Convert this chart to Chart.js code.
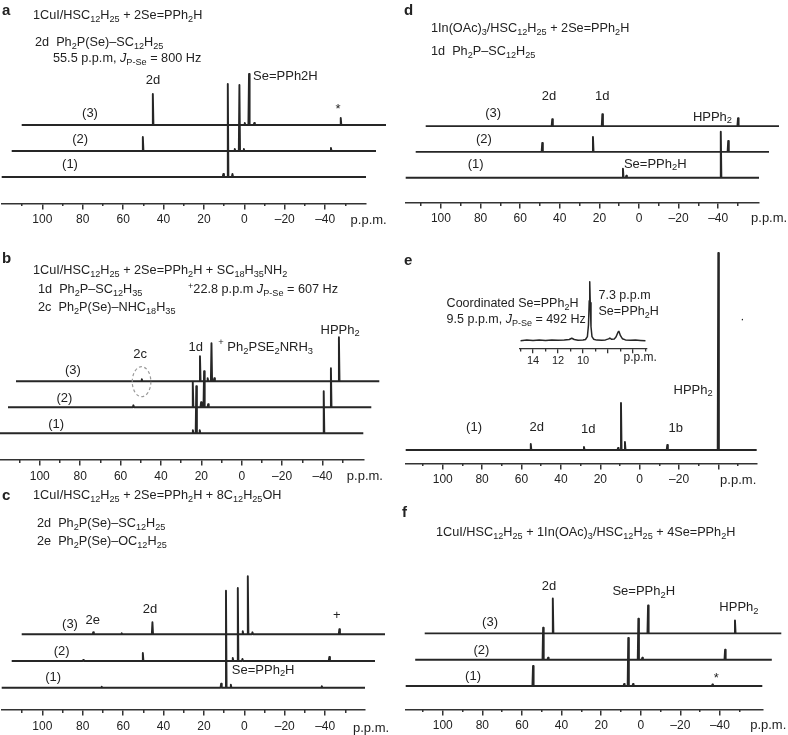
<!DOCTYPE html>
<html>
<head>
<meta charset="utf-8">
<script src="https://cdn.jsdelivr.net/npm/chart.js@4.4.1/dist/chart.umd.min.js"></script>
<style>
  html, body { margin: 0; padding: 0; background: #fff; }
  #fig { position: relative; width: 788px; height: 735px; overflow: hidden;
         font-family: "Liberation Sans", Arial, sans-serif; color: #222; }
  #fig canvas { position: absolute; }
  .hd { position: absolute; font-size: 12.7px; line-height: 16px; white-space: nowrap; }
  .hd sub { font-size: 0.72em; vertical-align: -0.3em; line-height: 0; }
  .hd sup { font-size: 0.72em; vertical-align: 0.45em; line-height: 0; }
  .hd.lt { font-weight: bold; font-size: 15px; }
</style>
</head>
<body>
<div id="fig"></div>
<script>
// ================= TICKS (p.p.m.) =================
var majorTicks = [100, 80, 60, 40, 20, 0, -20, -40];
var minorTicks = [110, 90, 70, 50, 30, 10, -10, -30, -50];
var eTickLabels = [100, 80, 60, 40, 20, 0, -20];
var insetMajor = [14, 12, 10, 8, 6];
var insetMinor = [15, 13, 11, 9, 7, 5];
var insetLabels = [14, 12, 10];

// ================= PEAKS: [shift p.p.m., height] =================
var a1 = [[10.4, 3], [8.2, 93], [5.9, 3]];
var a2 = [[55.2, 14], [9.7, 2], [7.4, 66], [5.2, 2], [-37.9, 3]];
var a3 = [[55.2, 31], [9.7, 2], [7.6, 51], [5.0, 2], [-37.8, 7]];

var b1 = [[24.2, 3], [22.5, 47], [20.8, 3], [-40.6, 42]];
var b2 = [[57.6, 2], [28.2, 25], [24.1, 5], [22.6, 36], [20.6, 3], [-40.2, 39]];
var b3 = [[57.4, 2], [28.6, 25], [24.8, 3], [22.9, 38], [21.5, 3], [-40.2, 44]];

var c1 = [[70.6, 1], [11.5, 4], [9.1, 97], [6.7, 3], [-38.3, 1.5]];
var c2 = [[84.7, 1], [55.2, 8], [10.7, 3], [8.2, 73], [5.9, 2], [-37.1, 4]];
var c3 = [[84.7, 2], [70.6, 1], [55.4, 12], [10.7, 3], [8.2, 58], [5.9, 2], [-37.1, 5]];

var d1 = [[8.1, 9], [6.4, 2], [-41.3, 46]];
var d2 = [[53.9, 9], [28.3, 15], [-40.0, 11]];
var d3 = [[53.9, 7], [28.6, 12], [-39.9, 8]];

var e1 = [[55.3, 6], [28.3, 3], [11.0, 2], [9.5, 47], [7.5, 8], [-14.0, 5], [-39.9, 197]];

var f1 = [[54.4, 20], [8.4, 2], [6.3, 48], [3.9, 2], [-36.2, 1.5]];
var f2 = [[54.1, 32], [51.6, 2], [6.0, 41], [4.0, 2], [-37.8, 10]];
var f3 = [[54.0, 35], [5.9, 28], [-38.0, 13]];

// inset of e, read point by point: [p.p.m., intensity]
var eInset = [[15.0, 0], [14.5, 0.6], [14.0, 0.2], [13.5, 0.7], [13.0, 0.3], [12.5, 0.8], [12.0, 0.4],
  [11.5, 0.6], [11.1, 1.2], [10.9, 2.4], [10.7, 1.2], [10.4, 0.5], [10.0, 0.6], [9.8, 1.2],
  [9.65, 4], [9.56, 16], [9.5, 40], [9.46, 59], [9.42, 38], [9.36, 14], [9.28, 4], [9.15, 1.5],
  [8.9, 0.6], [8.5, 0.4], [8.2, 0.8], [7.95, 1.8], [7.85, 2.6], [7.7, 1.4], [7.5, 1.6], [7.35, 4],
  [7.2, 8.5], [7.12, 9.3], [7.0, 5], [6.85, 2], [6.6, 0.8], [6.2, 0.4], [5.8, 0.7], [5.4, 0.3], [5.0, 0]];

// ================= HEADER TEXT =================
var headers = [
  { h: 'a', x: 2, y: 10, lt: true },
  { h: '1CuI/HSC<sub>12</sub>H<sub>25</sub> + 2Se=PPh<sub>2</sub>H', x: 33, y: 15 },
  { h: '2d&nbsp; Ph<sub>2</sub>P(Se)–SC<sub>12</sub>H<sub>25</sub>', x: 35, y: 42 },
  { h: '55.5 p.p.m, <i>J</i><sub>P-Se</sub> = 800 Hz', x: 53, y: 58 },

  { h: 'b', x: 2, y: 258, lt: true },
  { h: '1CuI/HSC<sub>12</sub>H<sub>25</sub> + 2Se=PPh<sub>2</sub>H + SC<sub>18</sub>H<sub>35</sub>NH<sub>2</sub>', x: 33, y: 270 },
  { h: '1d&nbsp; Ph<sub>2</sub>P–SC<sub>12</sub>H<sub>35</sub>', x: 38, y: 289 },
  { h: '<sup>+</sup>22.8 p.p.m <i>J</i><sub>P-Se</sub> = 607 Hz', x: 188, y: 289 },
  { h: '2c&nbsp; Ph<sub>2</sub>P(Se)–NHC<sub>18</sub>H<sub>35</sub>', x: 38, y: 307 },

  { h: 'c', x: 2, y: 495, lt: true },
  { h: '1CuI/HSC<sub>12</sub>H<sub>25</sub> + 2Se=PPh<sub>2</sub>H + 8C<sub>12</sub>H<sub>25</sub>OH', x: 33, y: 495 },
  { h: '2d&nbsp; Ph<sub>2</sub>P(Se)–SC<sub>12</sub>H<sub>25</sub>', x: 37, y: 523 },
  { h: '2e&nbsp; Ph<sub>2</sub>P(Se)–OC<sub>12</sub>H<sub>25</sub>', x: 37, y: 541 },

  { h: 'd', x: 404, y: 10, lt: true },
  { h: '1In(OAc)<sub>3</sub>/HSC<sub>12</sub>H<sub>25</sub> + 2Se=PPh<sub>2</sub>H', x: 431, y: 28 },
  { h: '1d&nbsp; Ph<sub>2</sub>P–SC<sub>12</sub>H<sub>25</sub>', x: 431, y: 51 },

  { h: 'e', x: 404, y: 260, lt: true },

  { h: 'f', x: 402, y: 512, lt: true },
  { h: '1CuI/HSC<sub>12</sub>H<sub>25</sub> + 1In(OAc)<sub>3</sub>/HSC<sub>12</sub>H<sub>25</sub> + 4Se=PPh<sub>2</sub>H', x: 436, y: 532 }
];

// ================= PANELS =================
// labels are placed on the scales of trace (1): x = p.p.m., y = height above its baseline
var panels = [
  { box: [0, 0, 394, 236], axisL: 1.7, axisR: 366, axisY: 203.3, ppm: [120.1, -60.2], base: 177, dx: 10, dy: 26,
    traces: [a1, a2, a3], tickLabels: majorTicks,
    labels: [
      { t: '2d', x: 45.2, y: 97 }, { t: 'Se=PPh2H', x: -4.3, y: 101, a: 'left' }, { t: '*', x: -46.4, y: 68 },
      { t: '(3)', x: 76.4, y: 64 }, { t: '(2)', x: 81.3, y: 38 }, { t: '(1)', x: 86.3, y: 13 },
      { t: 'p.p.m.', x: -61.5, y: -43 }] },
  { box: [0, 230, 394, 258], axisL: 0, axisR: 363.3, axisY: 460, ppm: [119.7, -60.2], base: 433.3, dx: 8, dy: 26,
    traces: [b1, b2, b3], tickLabels: majorTicks,
    ring: { x: 49.6, y: 51.6, rx: 9.3, ry: 15 },
    labels: [
      { t: '2c', x: 50.3, y: 79.3 }, { t: '1d', x: 22.8, y: 86 },
      { t: '^{+} Ph_{2}PSE_{2}NRH_{3}', x: 11.6, y: 86, a: 'left' }, { t: 'HPPh_{2}', x: -48.7, y: 103.3 },
      { t: '(3)', x: 83.6, y: 62.6 }, { t: '(2)', x: 87.8, y: 35 }, { t: '(1)', x: 91.9, y: 9 },
      { t: 'p.p.m.', x: -61, y: -43.4 }] },
  { box: [0, 480, 394, 255], axisL: 1.7, axisR: 365, axisY: 710, ppm: [120.1, -59.7], base: 687.7, dx: 10, dy: 26.7,
    traces: [c1, c2, c3], tickLabels: majorTicks,
    labels: [
      { t: '(3)', x: 86.3, y: 63.7 }, { t: '2e', x: 75, y: 67.7 }, { t: '2d', x: 46.7, y: 78.4 },
      { t: '+', x: -45.7, y: 72.7 }, { t: '(2)', x: 90.4, y: 36.7 }, { t: '(1)', x: 94.6, y: 10.4 },
      { t: 'Se=PPh_{2}H', x: 6.2, y: 17.7, a: 'left' }, { t: 'p.p.m.', x: -62.7, y: -40.6 }] },
  { box: [394, 0, 394, 236], axisL: 405.7, axisR: 759, axisY: 202.5, ppm: [117.8, -60.6], base: 177.7, dx: 10, dy: 25.8,
    traces: [d1, d2, d3], tickLabels: majorTicks,
    labels: [
      { t: '2d', x: 45.5, y: 81.7 }, { t: '1d', x: 18.5, y: 81.7 }, { t: 'HPPh_{2}', x: -37.1, y: 60.7 },
      { t: '(3)', x: 73.6, y: 64.7 }, { t: '(2)', x: 78.3, y: 38.7 }, { t: '(1)', x: 82.5, y: 13.7 },
      { t: 'Se=PPh_{2}H', x: 7.6, y: 13.7, a: 'left' }, { t: 'p.p.m.', x: -65.7, y: -40.3 }] },
  { box: [394, 230, 394, 258], axisL: 405.7, axisR: 756.7, axisY: 463.3, ppm: [118.8, -59.4], base: 450, dx: 0, dy: 0,
    traces: [e1], tickLabels: eTickLabels,
    labels: [
      { t: '(1)', x: 84.1, y: 22.7 }, { t: '2d', x: 52.3, y: 22.7 }, { t: '1d', x: 26.1, y: 20.7 },
      { t: '1b', x: -18.3, y: 21.7 }, { t: 'HPPh_{2}', x: -27.1, y: 60 }, { t: '·', x: -52.1, y: 130.7 },
      { t: 'p.p.m.', x: -50, y: -30 }] },
  { box: [394, 480, 394, 255], axisL: 405.7, axisR: 762.3, axisY: 709.3, ppm: [118.7, -61.4], base: 686, dx: 9.5, dy: 26.3,
    traces: [f1, f2, f3], tickLabels: majorTicks,
    labels: [
      { t: '2d', x: 46.3, y: 100 }, { t: 'Se=PPh_{2}H', x: 14.3, y: 94.3, a: 'left' }, { t: 'HPPh_{2}', x: -49.6, y: 78.3 },
      { t: '(3)', x: 76.1, y: 63.7 }, { t: '(2)', x: 80.5, y: 36 }, { t: '(1)', x: 84.7, y: 9.3 },
      { t: '*', x: -38.2, y: 8 }, { t: 'p.p.m.', x: -64.4, y: -39 }] }
];

var inset = { box: [430, 262, 250, 118], axisL: 519.3, axisR: 646.7, axisY: 349, ppm: [15.1, 4.9], base: 340.7,
  points: eInset, tickLabels: insetLabels, small: true,
  labels: [
    { t: 'Coordinated Se=PPh_{2}H', x: 20.92, y: 37.4, a: 'left', f: 12.5 },
    { t: '9.5 p.p.m, %J%_{P-Se} = 492 Hz', x: 20.92, y: 21.4, a: 'left', f: 12.5 },
    { t: '7.3 p.p.m', x: 8.76, y: 44.7, a: 'left', f: 12.5 },
    { t: 'Se=PPh_{2}H', x: 8.76, y: 29, a: 'left', f: 12.5 },
    { t: 'p.p.m.', x: 5.42, y: -16.6, f: 12 }] };

// ================= HELPERS =================
var FAM = '"Liberation Sans", Arial, sans-serif';
Chart.defaults.font.family = FAM;
var fig = document.getElementById('fig');

function fmt(v) { return v < 0 ? '\u2013' + (-v) : String(v); }

// text with _{sub}, ^{sup} and %italic%
function drawRich(ctx, str, x, y, align, size) {
  var parts = [], re = /([_^])\{([^}]*)\}|%([^%]*)%|([^_^%]+)/g, m;
  while ((m = re.exec(str))) {
    if (m[1]) parts.push({ t: m[2], m: m[1] });
    else if (m[3] !== undefined) parts.push({ t: m[3], m: 'i' });
    else parts.push({ t: m[4], m: '' });
  }
  function font(p) {
    var sz = (p.m === '_' || p.m === '^') ? size * 0.72 : size;
    return (p.m === 'i' ? 'italic ' : '') + sz + 'px ' + FAM;
  }
  var total = 0;
  parts.forEach(function (p) { ctx.font = font(p); p.w = ctx.measureText(p.t).width; total += p.w; });
  var cx = align === 'left' ? x : x - total / 2;
  ctx.fillStyle = '#222';
  ctx.textBaseline = 'middle';
  ctx.textAlign = 'left';
  parts.forEach(function (p) {
    ctx.font = font(p);
    var oy = p.m === '_' ? size * 0.3 : (p.m === '^' ? -size * 0.35 : 0);
    ctx.fillText(p.t, cx, y + oy);
    cx += p.w;
  });
}

// baseline with a narrow spike for every peak
function spectrum(peaks, lo, hi) {
  var w = 0.3;
  var pts = [{ x: hi, y: 0 }];
  peaks.slice().sort(function (p, q) { return q[0] - p[0]; }).forEach(function (p) {
    pts.push({ x: p[0] + w, y: 0 }, { x: p[0], y: p[1] }, { x: p[0] - w, y: 0 });
  });
  pts.push({ x: lo, y: 0 });
  return pts;
}

function axisOpts(P, posVal, vals, len, labels) {
  return {
    type: 'linear', reverse: true, min: P.ppm[1], max: P.ppm[0],
    position: { y1: posVal },
    afterBuildTicks: function (sc) { sc.ticks = vals.map(function (v) { return { value: v }; }); },
    border: { display: !!labels, color: '#333', width: P.small ? 1.3 : 1.5 },
    grid: { drawOnChartArea: false, drawTicks: true, tickLength: len, color: '#333', lineWidth: P.small ? 1.3 : 1.5 },
    ticks: {
      display: !!labels, autoSkip: false, maxRotation: 0, padding: P.small ? 1 : 4, color: '#222',
      font: { size: P.small ? 11 : 12 },
      callback: function (v) { return labels && labels.indexOf(v) >= 0 ? fmt(v) : ''; }
    }
  };
}

function makePanel(P) {
  var cv = document.createElement('canvas');
  cv.width = P.box[2];
  cv.height = P.box[3];
  cv.style.left = P.box[0] + 'px';
  cv.style.top = P.box[1] + 'px';
  fig.appendChild(cv);

  var top = P.box[1] + 8;
  var H = P.axisY - top;
  var s = (P.axisR - P.axisL) / (P.ppm[0] - P.ppm[1]);
  var y1min = P.base - P.axisY;

  var scales = {};
  scales.x1 = axisOpts(P, y1min, P.small ? insetMajor : majorTicks, P.small ? 4 : 5, P.tickLabels);
  scales.xm = axisOpts(P, y1min, P.small ? insetMinor : minorTicks, P.small ? 2.5 : 3, null);

  var series = P.points ? [P.points.map(function (p) { return { x: p[0], y: p[1] }; })]
                        : P.traces.map(function (tr) { return spectrum(tr, P.ppm[1], P.ppm[0]); });
  var datasets = series.map(function (data, k) {
    var xid = 'x' + (k + 1), yid = 'y' + (k + 1);
    var shift = k * (P.dx || 0) / s;
    if (k > 0) scales[xid] = { type: 'linear', display: false, reverse: true, min: P.ppm[1] + shift, max: P.ppm[0] + shift };
    var ymin = (P.base - k * (P.dy || 0)) - P.axisY;
    scales[yid] = { type: 'linear', display: false, min: ymin, max: ymin + H };
    return {
      data: data, xAxisID: xid, yAxisID: yid, clip: false,
      borderColor: '#262626', borderWidth: P.small ? 1.5 : 1.9, pointRadius: 0,
      tension: 0, borderJoinStyle: 'round', fill: false
    };
  });

  var labelPlugin = {
    id: 'peakLabels',
    afterDatasetsDraw: function (chart) {
      var ctx = chart.ctx, sx = chart.scales.x1, sy = chart.scales.y1;
      ctx.save();
      if (P.ring) {
        ctx.strokeStyle = '#9a9a9a';
        ctx.lineWidth = 1.2;
        ctx.setLineDash([3, 2.5]);
        ctx.beginPath();
        ctx.ellipse(sx.getPixelForValue(P.ring.x), sy.getPixelForValue(P.ring.y), P.ring.rx, P.ring.ry, 0, 0, Math.PI * 2);
        ctx.stroke();
        ctx.setLineDash([]);
      }
      P.labels.forEach(function (L) {
        drawRich(ctx, L.t, sx.getPixelForValue(L.x), sy.getPixelForValue(L.y), L.a || 'center', L.f || 13);
      });
      ctx.restore();
    }
  };

  return new Chart(cv.getContext('2d'), {
    type: 'line',
    data: { datasets: datasets },
    options: {
      responsive: false, animation: false, devicePixelRatio: 1, events: [],
      layout: { padding: {
        left: P.axisL - P.box[0], right: P.box[0] + P.box[2] - P.axisR,
        top: top - P.box[1], bottom: P.box[1] + P.box[3] - P.axisY } },
      scales: scales,
      plugins: { legend: { display: false }, tooltip: { enabled: false } }
    },
    plugins: [labelPlugin]
  });
}

// ================= BUILD =================
panels.forEach(makePanel);
makePanel(inset);

headers.forEach(function (t) {
  var d = document.createElement('div');
  d.className = 'hd' + (t.lt ? ' lt' : '');
  d.innerHTML = t.h;
  d.style.left = t.x + 'px';
  d.style.top = (t.y - 8) + 'px';
  fig.appendChild(d);
});
</script>
</body>
</html>
